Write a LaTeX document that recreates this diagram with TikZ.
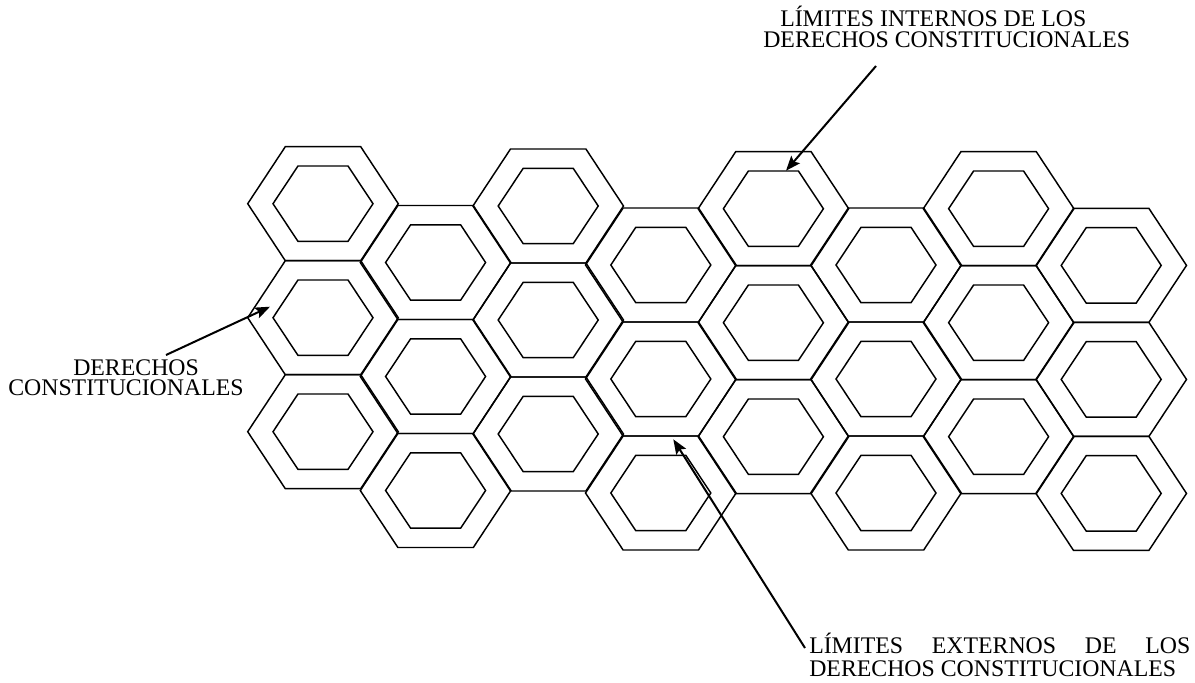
\documentclass[tikz,border=0pt]{standalone}
\usepackage{fontspec}
\setmainfont{Liberation Serif}
\usetikzlibrary{arrows.meta}

% one cell of the honeycomb: outer hexagon with a smaller hexagon inside
\newcommand\hexring[2]{%
  \draw[hexline] (#1-75.3,#2) -- (#1-37.7,#2-57) -- (#1+37.7,#2-57)
    -- (#1+75.3,#2) -- (#1+37.7,#2+57) -- (#1-37.7,#2+57) -- cycle;
  \draw[hexline] (#1-50,#2) -- (#1-25,#2-37.7) -- (#1+25,#2-37.7)
    -- (#1+50,#2) -- (#1+25,#2+37.7) -- (#1-25,#2+37.7) -- cycle;
}
% two-line label block: #1 line distance, #2 first line, #3 second line
\newcommand\twolines[3]{\vtop{\baselineskip=#1\lineskiplimit=-100pt\lineskip=0pt
  \hbox{#2}\hbox{#3}}}

\begin{document}
\begin{tikzpicture}[x=0.75pt,y=-0.75pt,
  hexline/.style={line width=1.1pt, line join=miter},
  lbl/.style={inner sep=0pt, anchor=base west, font=\fontsize{17.85}{21}\selectfont},
  pointer/.style={line width=1.5pt, -{Stealth[length=11pt,width=8.5pt,inset=2pt]}}]
\useasboundingbox (0,0) rectangle (1195,682);

% honeycomb: eight columns of three cells
\foreach \i/\ty in {0/203.7,1/262.5,2/206,3/265,4/208.7,5/265,6/208.7,7/265.4} {
  \foreach \j in {0,1,2} {
    \pgfmathsetmacro\cx{323+112.6*\i}
    \pgfmathsetmacro\cy{\ty+114*\j}
    \hexring{\cx}{\cy}
  }
}

% labels
\node[lbl] (internos) at (763,26.7)
  {\twolines{15.75pt}{\kern12.75pt LÍMITES INTERNOS DE LOS}{DERECHOS CONSTITUCIONALES}};
\node[lbl] (derechos) at (8,375)
  {\twolines{15pt}{\kern48.75pt DERECHOS}{CONSTITUCIONALES}};
\node[lbl] (externos) at (809,653.3)
  {\twolines{17.55pt}{\hbox to 285.75pt{LÍMITES\hfill EXTERNOS\hfill DE\hfill LOS}}{DERECHOS CONSTITUCIONALES}};

% pointers
\coordinate (intTail) at (876,66);
\coordinate (intTip) at (786,170.7);
\coordinate (derTail) at (166,355);
\coordinate (derTip) at (270,306.7);
\coordinate (extTail) at (805,648);
\coordinate (extTip) at (673.3,439.3);
\draw[pointer] (intTail) -- (intTip);
\draw[pointer] (derTail) -- (derTip);
\draw[pointer] (extTail) -- (extTip);
\end{tikzpicture}
\end{document}
